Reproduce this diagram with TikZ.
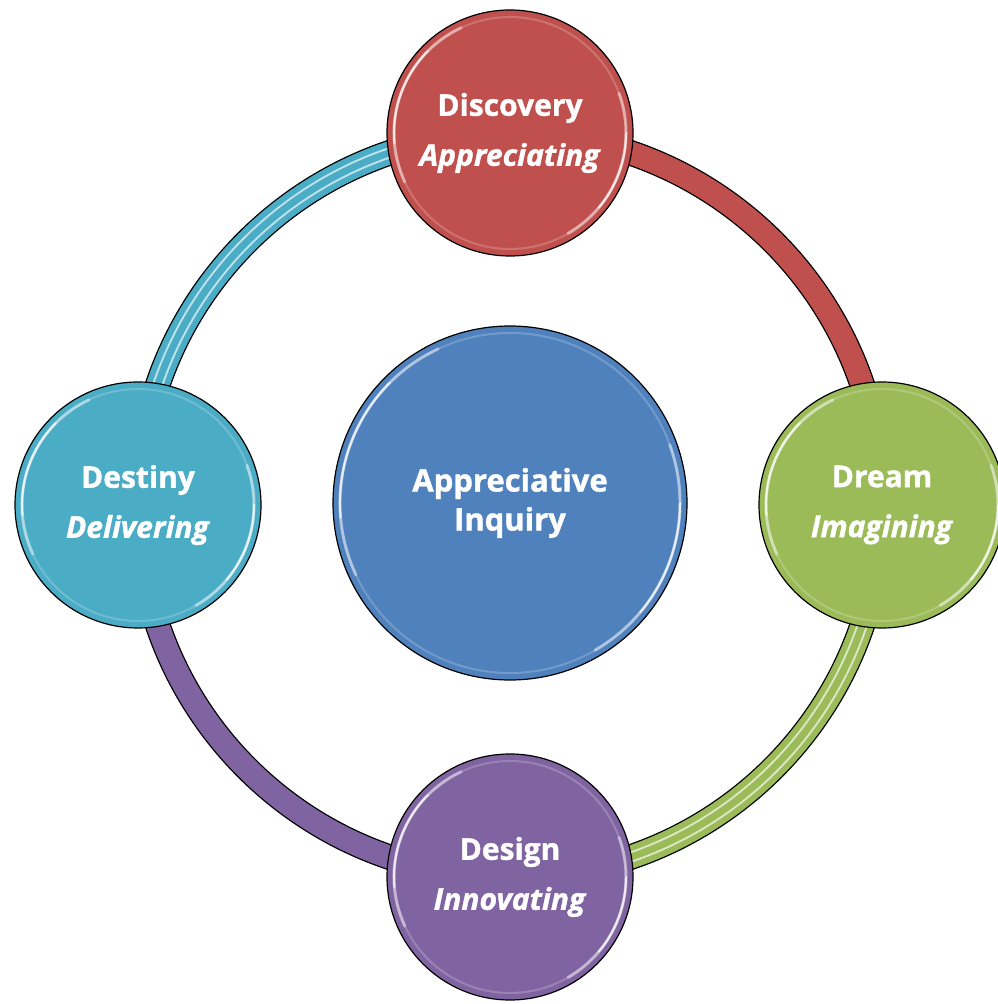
\documentclass[tikz,border=0pt]{standalone}
\usepackage{fontspec}
\setmainfont{Open Sans}[BoldFeatures={FakeBold=1.2}, BoldItalicFeatures={FakeBold=1.2}]
\usetikzlibrary{backgrounds}
\definecolor{cRed}{HTML}{C0504D}
\definecolor{cGreen}{HTML}{9BBB59}
\definecolor{cPurple}{HTML}{8064A2}
\definecolor{cCyan}{HTML}{4BACC6}
\definecolor{cBlue}{HTML}{4F81BD}
\tikzset{
  gloss/.style={path picture={
    \draw[white, opacity=.2, line width=2pt]
      (path picture bounding box.center) circle[radius=#1];
    \foreach \a/\b in {115/205,-60/20}{
      \draw[white, opacity=.45, line width=3pt, line cap=round]
        ([shift={(\a:#1)}]path picture bounding box.center) arc[start angle=\a, end angle=\b, radius=#1];
      \draw[white, opacity=.7, line width=2pt, line cap=round]
        ([shift={(\a+20:#1)}]path picture bounding box.center) arc[start angle=\a+20, end angle=\b-20, radius=#1];
    }
  }},
  stage/.style={circle, draw=black, line width=1.2pt, minimum size=246pt, inner sep=0pt,
    text=white, align=center, font=\fontsize{30}{50}\selectfont\bfseries, gloss=116},
  hub/.style={circle, draw=black, line width=1.2pt, minimum size=354pt, inner sep=0pt,
    text=white, align=center, font=\fontsize{31}{39}\selectfont\bfseries, fill=cBlue, gloss=170},
  band/.style={draw=black, line width=1.3pt, double=#1, double distance=23pt},
  stripes/.style={draw=#1!35!white, line width=2pt, double=#1, double distance=7pt}
}
\begin{document}
\begin{tikzpicture}[x=1pt,y=1pt]
\useasboundingbox (0,0) rectangle (998,1004);
\node[hub] (ai) at (510,501) {Appreciative\\Inquiry};
\node[stage, fill=cRed] (disc) at (510,871) {Discovery\\\textit{Appreciating}};
\node[stage, fill=cGreen] (dream) at (882,499) {Dream\\\textit{Imagining}};
\node[stage, fill=cPurple] (design) at (510,127) {Design\\\textit{Innovating}};
\node[stage, fill=cCyan] (dest) at (138,499) {Destiny\\\textit{Delivering}};
\begin{scope}[on background layer]
  \draw[band=cRed] (disc.center) to[out=0,in=90] (dream.center);
  \draw[band=cGreen] (dream.center) to[out=-90,in=0] (design.center);
  \draw[stripes=cGreen] (dream.center) to[out=-90,in=0] (design.center);
  \draw[band=cPurple] (design.center) to[out=180,in=-90] (dest.center);
  \draw[band=cCyan] (dest.center) to[out=90,in=180] (disc.center);
  \draw[stripes=cCyan] (dest.center) to[out=90,in=180] (disc.center);
\end{scope}
\end{tikzpicture}
\end{document}
